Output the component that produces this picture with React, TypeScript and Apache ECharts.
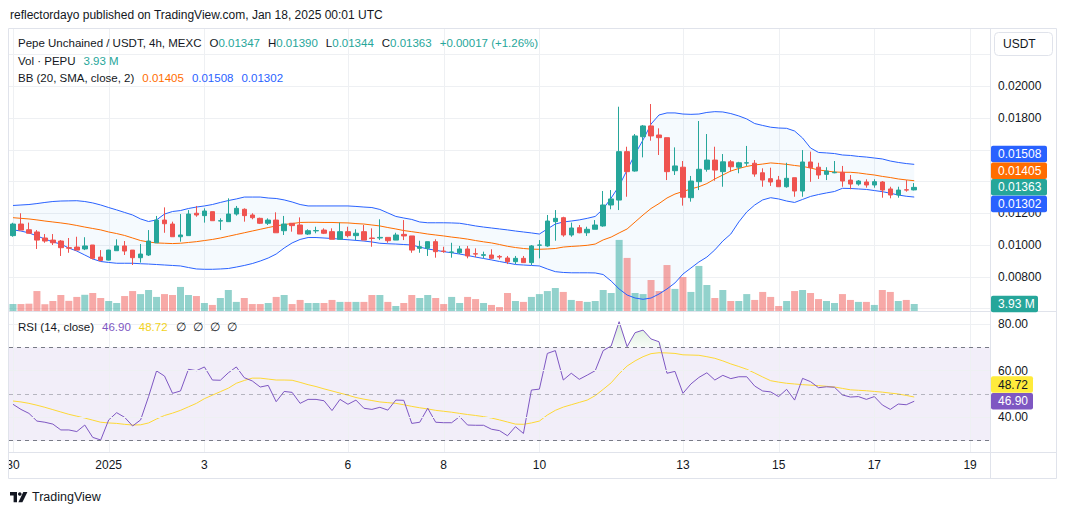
import React, { useEffect, useRef } from "react";
import * as echarts from "echarts";

const FONT = '"Liberation Sans", Arial, Helvetica, sans-serif';
const TEXT = "#131722";
const UP = "#26a69a";
const DOWN = "#ef5350";
const GRID = "#eef0f3";
const BORDER = "#e0e3eb";
const BB_BAND = "#2962ff";
const BB_BASIS = "#ff6d00";
const RSI_COLOR = "#7e57c2";
const RSI_MA_COLOR = "#fdd835";

// 4h bars, the first one opens 2024-12-30 00:00; the axis keeps a few empty slots on the right
const firstBarUtc = Date.UTC(2024, 11, 30, 0, 0);
const barMs = 4 * 3600 * 1000;
const slotCount = 123;

const tickDays = ["2024-12-30", "2025-01-01", "2025-01-03", "2025-01-06", "2025-01-08", "2025-01-10", "2025-01-13", "2025-01-15", "2025-01-17", "2025-01-19"];
const tickTexts = ["30", "2025", "3", "6", "8", "10", "13", "15", "17", "19"];

const opens = [
  0.01059, 0.01132, 0.01096, 0.01082, 0.01044, 0.01031, 0.01025, 0.00983, 0.00987, 0.00975,
  0.01000, 0.00924, 0.00905, 0.00964, 0.00994, 0.00968, 0.00920, 0.00937, 0.01014, 0.01157,
  0.01132, 0.01052, 0.01059, 0.01200, 0.01185, 0.01210, 0.01151, 0.01147, 0.01195, 0.01225,
  0.01189, 0.01168, 0.01137, 0.01157, 0.01090, 0.01137, 0.01126, 0.01069, 0.01089, 0.01094,
  0.01084, 0.01036, 0.01084, 0.01059, 0.01084, 0.01044, 0.01044, 0.01048, 0.01031, 0.01067,
  0.01057, 0.00979, 0.00979, 0.01021, 0.00962, 0.00954, 0.00951, 0.00975, 0.00945, 0.00935,
  0.00937, 0.00928, 0.00918, 0.00895, 0.00916, 0.00889, 0.00999, 0.00994, 0.01147, 0.01172,
  0.01063, 0.01109, 0.01077, 0.01099, 0.01120, 0.01252, 0.01283, 0.01588, 0.01466, 0.01682,
  0.01750, 0.01693, 0.01676, 0.01468, 0.01490, 0.01298, 0.01399, 0.01477, 0.01535, 0.01462,
  0.01524, 0.01490, 0.01516, 0.01515, 0.01455, 0.01418, 0.01409, 0.01367, 0.01424, 0.01340,
  0.01523, 0.01490, 0.01445, 0.01455, 0.01458, 0.01409, 0.01384, 0.01397, 0.01378, 0.01397,
  0.01353, 0.01315, 0.01348, 0.01347,
];
const highs = [
  0.01140, 0.01200, 0.01141, 0.01094, 0.01069, 0.01069, 0.01031, 0.01044, 0.01052, 0.01049,
  0.01000, 0.00968, 0.00970, 0.01036, 0.01025, 0.00968, 0.01006, 0.01094, 0.01183, 0.01237,
  0.01147, 0.01195, 0.01220, 0.01246, 0.01231, 0.01210, 0.01168, 0.01294, 0.01246, 0.01231,
  0.01200, 0.01172, 0.01168, 0.01206, 0.01183, 0.01137, 0.01174, 0.01099, 0.01115, 0.01105,
  0.01105, 0.01141, 0.01115, 0.01099, 0.01126, 0.01105, 0.01162, 0.01048, 0.01077, 0.01157,
  0.01057, 0.01027, 0.01021, 0.01036, 0.00989, 0.01014, 0.00994, 0.00994, 0.00979, 0.00958,
  0.00973, 0.00937, 0.00931, 0.00931, 0.00931, 0.01000, 0.01031, 0.01189, 0.01220, 0.01178,
  0.01141, 0.01126, 0.01115, 0.01157, 0.01340, 0.01346, 0.01871, 0.01619, 0.01699, 0.01756,
  0.01888, 0.01735, 0.01676, 0.01615, 0.01529, 0.01435, 0.01781, 0.01699, 0.01619, 0.01573,
  0.01535, 0.01524, 0.01624, 0.01535, 0.01483, 0.01487, 0.01435, 0.01518, 0.01424, 0.01598,
  0.01588, 0.01518, 0.01490, 0.01529, 0.01498, 0.01441, 0.01409, 0.01414, 0.01414, 0.01403,
  0.01367, 0.01367, 0.01409, 0.01390,
];
const lows = [
  0.01052, 0.01094, 0.01074, 0.00975, 0.01014, 0.01000, 0.00931, 0.00951, 0.00968, 0.00968,
  0.00910, 0.00897, 0.00903, 0.00964, 0.00937, 0.00874, 0.00889, 0.00931, 0.01014, 0.01077,
  0.01052, 0.01021, 0.01059, 0.01178, 0.01141, 0.01153, 0.01094, 0.01147, 0.01185, 0.01147,
  0.01162, 0.01132, 0.01126, 0.01077, 0.01063, 0.01084, 0.01069, 0.01063, 0.01074, 0.01069,
  0.01036, 0.01036, 0.01048, 0.01031, 0.01031, 0.00989, 0.01031, 0.01014, 0.01031, 0.01031,
  0.00951, 0.00951, 0.00931, 0.00920, 0.00951, 0.00920, 0.00943, 0.00916, 0.00923, 0.00916,
  0.00910, 0.00910, 0.00880, 0.00880, 0.00889, 0.00874, 0.00916, 0.00989, 0.01027, 0.01052,
  0.01052, 0.01074, 0.01057, 0.01099, 0.01115, 0.01225, 0.01220, 0.01304, 0.01462, 0.01552,
  0.01657, 0.01567, 0.01409, 0.01441, 0.01248, 0.01273, 0.01346, 0.01462, 0.01405, 0.01367,
  0.01462, 0.01452, 0.01498, 0.01430, 0.01367, 0.01372, 0.01367, 0.01361, 0.01304, 0.01304,
  0.01398, 0.01416, 0.01409, 0.01452, 0.01367, 0.01351, 0.01374, 0.01361, 0.01361, 0.01298,
  0.01294, 0.01298, 0.01336, 0.01344,
];
const closes = [
  0.01132, 0.01094, 0.01074, 0.01031, 0.01025, 0.01014, 0.00983, 0.00980, 0.00968, 0.00994,
  0.00916, 0.00903, 0.00968, 0.00994, 0.00962, 0.00920, 0.00943, 0.01025, 0.01157, 0.01134,
  0.01052, 0.01063, 0.01195, 0.01189, 0.01214, 0.01153, 0.01153, 0.01195, 0.01231, 0.01185,
  0.01172, 0.01137, 0.01157, 0.01077, 0.01132, 0.01122, 0.01069, 0.01090, 0.01091, 0.01074,
  0.01036, 0.01084, 0.01059, 0.01074, 0.01031, 0.01041, 0.01048, 0.01027, 0.01063, 0.01057,
  0.00968, 0.00989, 0.01021, 0.00958, 0.00959, 0.00956, 0.00975, 0.00931, 0.00943, 0.00939,
  0.00916, 0.00924, 0.00895, 0.00916, 0.00889, 0.00994, 0.01000, 0.01151, 0.01168, 0.01063,
  0.01107, 0.01077, 0.01099, 0.01126, 0.01252, 0.01290, 0.01588, 0.01462, 0.01687, 0.01750,
  0.01687, 0.01676, 0.01462, 0.01498, 0.01301, 0.01403, 0.01477, 0.01535, 0.01472, 0.01524,
  0.01493, 0.01518, 0.01518, 0.01447, 0.01409, 0.01397, 0.01367, 0.01420, 0.01340, 0.01523,
  0.01487, 0.01441, 0.01466, 0.01458, 0.01403, 0.01384, 0.01403, 0.01378, 0.01399, 0.01346,
  0.01315, 0.01346, 0.01346, 0.01363,
];
// volume in millions of PEPU
const volumesM = [
  4.0, 3.9, 4.1, 11.2, 3.8, 5.6, 9.0, 5.7, 7.9, 9.1,
  10.1, 7.3, 5.6, 4.5, 8.4, 11.2, 9.5, 11.8, 7.9, 9.5,
  9.0, 13.5, 9.0, 8.4, 4.5, 3.4, 7.3, 11.8, 5.1, 7.3,
  3.9, 3.9, 4.5, 7.9, 9.0, 3.9, 6.2, 4.5, 4.5, 4.5,
  6.2, 5.1, 5.1, 5.1, 5.1, 9.0, 9.0, 5.1, 2.8, 4.5,
  9.0, 7.3, 9.0, 7.3, 3.9, 7.9, 4.5, 7.9, 6.7, 4.5,
  3.4, 2.2, 10.1, 5.6, 5.1, 7.9, 9.5, 11.2, 12.9, 10.7,
  6.2, 5.6, 5.1, 5.6, 11.8, 10.1, 39.9, 29.8, 10.1, 9.5,
  17.4, 11.2, 25.8, 12.4, 19.1, 10.7, 25.3, 14.6, 7.3, 11.8,
  5.6, 5.6, 9.5, 6.2, 10.7, 7.9, 2.8, 5.6, 11.2, 11.8,
  10.1, 6.7, 5.6, 4.5, 9.5, 6.2, 5.1, 5.1, 3.4, 11.8,
  10.7, 5.6, 6.2, 3.93,
];
// Bollinger Bands (20, SMA, close, 2)
const bbUpper = [
  0.01249, 0.01252, 0.01255, 0.01261, 0.01268, 0.01274, 0.01277, 0.01278, 0.01279, 0.01274,
  0.01265, 0.01252, 0.01236, 0.01221, 0.01205, 0.01189, 0.01164, 0.01148, 0.01158, 0.01195,
  0.01211, 0.01217, 0.01230, 0.01239, 0.01246, 0.01255, 0.01268, 0.01280, 0.01290, 0.01302,
  0.01302, 0.01302, 0.01296, 0.01293, 0.01284, 0.01271, 0.01255, 0.01246, 0.01246, 0.01246,
  0.01246, 0.01246, 0.01246, 0.01243, 0.01239, 0.01236, 0.01224, 0.01202, 0.01180, 0.01170,
  0.01161, 0.01145, 0.01140, 0.01140, 0.01140, 0.01139, 0.01137, 0.01129, 0.01120, 0.01113,
  0.01107, 0.01101, 0.01095, 0.01088, 0.01082, 0.01076, 0.01069, 0.01101, 0.01132, 0.01145,
  0.01151, 0.01158, 0.01168, 0.01180, 0.01227, 0.01296, 0.01372, 0.01473, 0.01573, 0.01662,
  0.01762, 0.01819, 0.01832, 0.01832, 0.01825, 0.01823, 0.01825, 0.01835, 0.01840, 0.01838,
  0.01828, 0.01813, 0.01794, 0.01765, 0.01753, 0.01742, 0.01737, 0.01735, 0.01718, 0.01674,
  0.01611, 0.01583, 0.01580, 0.01576, 0.01567, 0.01564, 0.01558, 0.01554, 0.01548, 0.01542,
  0.01529, 0.01520, 0.01513, 0.01508,
];
const bbBasis = [
  0.01172, 0.01168, 0.01164, 0.01158, 0.01151, 0.01145, 0.01139, 0.01132, 0.01123, 0.01113,
  0.01104, 0.01095, 0.01082, 0.01072, 0.01060, 0.01044, 0.01028, 0.01019, 0.01013, 0.01011,
  0.01009, 0.01011, 0.01016, 0.01021, 0.01028, 0.01035, 0.01044, 0.01055, 0.01066, 0.01077,
  0.01088, 0.01099, 0.01110, 0.01120, 0.01129, 0.01135, 0.01142, 0.01143, 0.01143, 0.01142,
  0.01142, 0.01140, 0.01139, 0.01135, 0.01132, 0.01126, 0.01120, 0.01110, 0.01101, 0.01091,
  0.01084, 0.01077, 0.01069, 0.01063, 0.01057, 0.01050, 0.01044, 0.01037, 0.01028, 0.01020,
  0.01013, 0.01003, 0.00992, 0.00984, 0.00978, 0.00974, 0.00973, 0.00975, 0.00978, 0.00987,
  0.00991, 0.00994, 0.00998, 0.01006, 0.01032, 0.01050, 0.01076, 0.01101, 0.01145, 0.01189,
  0.01230, 0.01261, 0.01296, 0.01321, 0.01337, 0.01353, 0.01367, 0.01387, 0.01416, 0.01441,
  0.01466, 0.01482, 0.01495, 0.01504, 0.01510, 0.01517, 0.01513, 0.01508, 0.01501, 0.01495,
  0.01485, 0.01473, 0.01466, 0.01460, 0.01458, 0.01458, 0.01454, 0.01447, 0.01441, 0.01432,
  0.01425, 0.01416, 0.01410, 0.01405,
];
const bbLower = [
  0.01095, 0.01088, 0.01076, 0.01057, 0.01038, 0.01019, 0.01006, 0.00981, 0.00962, 0.00937,
  0.00912, 0.00896, 0.00890, 0.00885, 0.00885, 0.00885, 0.00882, 0.00880, 0.00877, 0.00874,
  0.00871, 0.00868, 0.00858, 0.00849, 0.00847, 0.00847, 0.00849, 0.00852, 0.00861, 0.00871,
  0.00883, 0.00899, 0.00918, 0.00943, 0.00981, 0.01013, 0.01035, 0.01047, 0.01047, 0.01044,
  0.01041, 0.01037, 0.01033, 0.01029, 0.01025, 0.01019, 0.01011, 0.01008, 0.01006, 0.01003,
  0.01000, 0.00987, 0.00975, 0.00967, 0.00958, 0.00951, 0.00943, 0.00934, 0.00924, 0.00915,
  0.00906, 0.00896, 0.00887, 0.00877, 0.00874, 0.00871, 0.00868, 0.00849, 0.00832, 0.00827,
  0.00825, 0.00825, 0.00825, 0.00824, 0.00814, 0.00773, 0.00723, 0.00685, 0.00666, 0.00658,
  0.00666, 0.00691, 0.00723, 0.00761, 0.00817, 0.00855, 0.00893, 0.00924, 0.00969, 0.01025,
  0.01069, 0.01145, 0.01208, 0.01252, 0.01284, 0.01298, 0.01290, 0.01277, 0.01268, 0.01287,
  0.01306, 0.01318, 0.01328, 0.01337, 0.01357, 0.01356, 0.01353, 0.01350, 0.01343, 0.01336,
  0.01326, 0.01315, 0.01307, 0.01302,
];
// RSI (14, close) and its moving average
const rsi = [
  45.6, 43.4, 41.7, 38.4, 37.9, 37.1, 34.6, 34.6, 33.9, 36.7,
  31.4, 30.3, 38.9, 42.0, 40.0, 36.3, 38.9, 48.9, 59.9, 57.7,
  50.3, 51.3, 60.6, 60.0, 61.6, 56.0, 55.9, 59.1, 61.6, 57.0,
  55.6, 53.0, 53.7, 46.7, 51.1, 50.7, 46.0, 47.7, 47.7, 47.1,
  42.9, 47.7, 45.6, 47.4, 43.9, 43.4, 44.3, 43.1, 47.4, 47.3,
  37.4, 37.9, 43.9, 37.9, 37.7, 37.7, 40.3, 36.7, 36.6, 36.6,
  34.9, 34.3, 32.1, 36.0, 33.1, 51.7, 52.1, 67.4, 68.6, 56.0,
  58.9, 56.3, 58.1, 60.0, 68.6, 70.6, 81.0, 70.3, 76.3, 77.4,
  73.6, 72.4, 58.9, 59.7, 50.3, 54.3, 57.1, 59.1, 56.0, 58.0,
  56.6, 57.4, 57.4, 53.4, 51.3, 50.9, 48.9, 52.0, 47.4, 56.7,
  55.3, 52.7, 53.1, 52.9, 49.6, 48.7, 48.9, 47.7, 48.9, 45.3,
  43.4, 45.7, 45.4, 46.9,
];
const rsiMa = [
  47.0, 46.6, 46.0, 45.2, 44.3, 43.3, 42.3, 41.3, 40.5, 39.7,
  38.8, 37.9, 37.6, 37.4, 37.0, 36.7, 36.8, 37.6, 39.3, 40.8,
  41.8, 43.0, 44.5, 46.0, 48.0, 49.5, 51.0, 52.5, 54.6, 55.8,
  56.8, 56.8, 56.4, 56.0, 56.0, 55.9, 55.0, 54.0, 53.2, 52.2,
  51.3, 50.4, 49.5, 48.5, 47.8, 47.2, 46.6, 46.3, 46.0, 45.4,
  44.7, 44.1, 43.6, 43.0, 42.6, 42.2, 41.7, 41.2, 40.8, 40.3,
  39.7, 38.9, 38.0, 37.1, 37.0, 37.6, 38.4, 41.0, 43.0, 44.4,
  45.4, 46.4, 47.4, 49.3, 52.0, 54.8, 58.7, 62.0, 64.2, 66.0,
  67.3, 67.7, 67.6, 67.4, 66.8, 66.7, 66.6, 66.0, 65.3, 64.2,
  62.9, 61.8, 60.6, 59.0, 57.3, 55.7, 55.1, 54.6, 54.3, 54.0,
  53.8, 53.6, 53.3, 53.0, 52.4, 51.8, 51.6, 51.4, 51.1, 50.8,
  50.4, 50.0, 49.4, 48.72,
];
const rsiUpperLevel = 70;
const rsiMidLevel = 50;
const rsiLowerLevel = 30;
const rsiGridLevels = [80, 60, 40];

const pad2 = (n: number) => String(n).padStart(2, "0");
const categories: string[] = Array.from({ length: slotCount }, (_, i) => {
  const d = new Date(firstBarUtc + i * barMs);
  return `${d.getUTCFullYear()}-${pad2(d.getUTCMonth() + 1)}-${pad2(d.getUTCDate())} ${pad2(d.getUTCHours())}:00`;
});
const tickIndex = tickDays.map((d) => categories.indexOf(`${d} 00:00`));
const tickLabelByIndex = new Map<number, string>(tickIndex.map((idx, k) => [idx, tickTexts[k]]));

// layout
const PLOT_LEFT = 9;
const PLOT_RIGHT_GAP = 78;
const AXIS_X = 991;
const FRAME = { left: 8.5, top: 28.5, right: 1056.5, bottom: 478.5 };
const PANE_SPLIT_Y = 311.5;
const TIME_AXIS_Y = 452.5;
const BOX_H = 16.5;

const priceMin = 0.006;
const priceMax = 0.022;
const priceStep = 0.002;
const volumeMax = 78.6;

function spreadLabels(ys: number[], anchor: number, gap: number): number[] {
  const order = ys.map((_, i) => i).sort((a, b) => ys[a] - ys[b]);
  const pos = order.indexOf(anchor);
  const out = ys.slice();
  for (let k = pos - 1; k >= 0; k--) out[order[k]] = Math.min(ys[order[k]], out[order[k + 1]] - gap);
  for (let k = pos + 1; k < order.length; k++) out[order[k]] = Math.max(ys[order[k]], out[order[k - 1]] + gap);
  return out;
}

const priceLabel = (hidden: number[]) => (v: number) =>
  Math.abs(v - priceMax) < 1e-9 || hidden.some((h) => Math.abs(h - v) < 1e-9) ? "" : v.toFixed(5);

function buildOption() {
  const hiddenX = (gridIndex: number) => ({
    type: "category",
    gridIndex,
    data: categories,
    boundaryGap: true,
    axisLine: { show: false },
    axisTick: { show: false },
    axisLabel: { show: false },
    splitLine: { show: false },
  });
  const line = (data: number[], color: string, xi: number, yi: number, z = 3) => ({
    type: "line",
    xAxisIndex: xi,
    yAxisIndex: yi,
    data,
    symbol: "none",
    showSymbol: false,
    silent: true,
    lineStyle: { color, width: 1 },
    z,
  });
  const dashed = [4, 4];
  return {
    animation: false,
    backgroundColor: "#ffffff",
    textStyle: { fontFamily: FONT },
    grid: [
      { left: PLOT_LEFT, right: PLOT_RIGHT_GAP, top: 54.5, height: 254 },
      { left: PLOT_LEFT, right: PLOT_RIGHT_GAP, top: 171, height: 140 },
      { left: PLOT_LEFT, right: PLOT_RIGHT_GAP, top: 300.7, height: 163.3 },
      { left: PLOT_LEFT, right: PLOT_RIGHT_GAP, top: 452, height: 1 },
    ],
    xAxis: [
      hiddenX(0),
      hiddenX(1),
      hiddenX(2),
      {
        ...hiddenX(3),
        axisLabel: {
          show: true,
          interval: (index: number) => tickLabelByIndex.has(index),
          formatter: (_v: string, index: number) => tickLabelByIndex.get(index) ?? "",
          color: TEXT,
          fontSize: 12,
          fontFamily: FONT,
          margin: 6,
        },
      },
    ],
    yAxis: [
      {
        type: "value",
        gridIndex: 0,
        position: "right",
        min: priceMin,
        max: priceMax,
        interval: priceStep,
        axisLine: { show: false },
        axisTick: { show: false },
        splitLine: { show: true, lineStyle: { color: GRID, width: 1 } },
        axisLabel: { color: TEXT, fontSize: 12, fontFamily: FONT, margin: 8, formatter: priceLabel([]) },
      },
      { type: "value", gridIndex: 1, min: 0, max: volumeMax, show: false },
      {
        type: "value",
        gridIndex: 2,
        position: "right",
        min: 20,
        max: 90,
        interval: 20,
        axisLine: { show: false },
        axisTick: { show: false },
        splitLine: { show: false },
        axisLabel: {
          color: TEXT,
          fontSize: 12,
          fontFamily: FONT,
          margin: 8,
          formatter: (v: number) => (rsiGridLevels.some((g) => Math.abs(g - v) < 1e-6) ? v.toFixed(2) : ""),
        },
      },
      { type: "value", gridIndex: 3, show: false },
    ],
    series: [
      {
        type: "bar",
        name: "Volume",
        xAxisIndex: 1,
        yAxisIndex: 1,
        barWidth: 7,
        silent: true,
        z: 1,
        data: volumesM.map((v, i) => ({
          value: v,
          itemStyle: { color: closes[i] >= opens[i] ? "rgba(38,166,154,0.5)" : "rgba(239,83,80,0.5)" },
        })),
      },
      {
        ...line(bbLower, "transparent", 0, 0, 1),
        stack: "bb",
        lineStyle: { opacity: 0, width: 0 },
      },
      {
        ...line(bbUpper.map((u, i) => u - bbLower[i]), "transparent", 0, 0, 1),
        stack: "bb",
        lineStyle: { opacity: 0, width: 0 },
        areaStyle: { color: "rgba(33,150,243,0.07)" },
      },
      line(bbUpper, BB_BAND, 0, 0),
      line(bbBasis, BB_BASIS, 0, 0),
      line(bbLower, BB_BAND, 0, 0),
      {
        type: "candlestick",
        name: "PEPU/USDT",
        xAxisIndex: 0,
        yAxisIndex: 0,
        barWidth: 5,
        silent: true,
        z: 4,
        data: opens.map((o, i) => [o, closes[i], lows[i], highs[i]]),
        itemStyle: { color: UP, color0: DOWN, borderColor: UP, borderColor0: DOWN, borderWidth: 1 },
      },
      {
        ...line(rsi.map(() => rsiUpperLevel), "transparent", 2, 2, 1),
        stack: "ob",
        lineStyle: { opacity: 0, width: 0 },
      },
      {
        ...line(rsi.map((v) => Math.max(0, v - rsiUpperLevel)), "transparent", 2, 2, 1),
        stack: "ob",
        lineStyle: { opacity: 0, width: 0 },
        areaStyle: {
          color: new echarts.graphic.LinearGradient(0, 0, 0, 1, [
            { offset: 0, color: "rgba(76,175,80,0.32)" },
            { offset: 1, color: "rgba(76,175,80,0.06)" },
          ]),
        },
      },
      line(rsiMa, RSI_MA_COLOR, 2, 2),
      {
        ...line(rsi, RSI_COLOR, 2, 2, 4),
        markLine: {
          silent: true,
          symbol: ["none", "none"],
          label: { show: false },
          data: [
            ...rsiGridLevels.map((lv) => ({ yAxis: lv, lineStyle: { color: GRID, type: "solid", width: 1 } })),
            { yAxis: rsiUpperLevel, lineStyle: { color: "#787b86", type: dashed, width: 1 } },
            { yAxis: rsiMidLevel, lineStyle: { color: "rgba(120,123,134,0.5)", type: dashed, width: 1 } },
            { yAxis: rsiLowerLevel, lineStyle: { color: "#787b86", type: dashed, width: 1 } },
          ],
        },
      },
    ],
  };
}

function buildGraphics(chart: echarts.ECharts) {
  const px = (i: number) => chart.convertToPixel({ xAxisIndex: 0 }, i) as number;
  const py = (v: number) => chart.convertToPixel({ yAxisIndex: 0 }, v) as number;
  const pvol = (v: number) => chart.convertToPixel({ yAxisIndex: 1 }, v) as number;
  const prsi = (v: number) => chart.convertToPixel({ yAxisIndex: 2 }, v) as number;
  const last = closes.length - 1;
  const els: any[] = [];
  const boxCenters: number[] = [];

  const hline = (y: number, x1: number, x2: number, stroke: string, z: number) =>
    els.push({ type: "line", silent: true, z, shape: { x1, y1: y, x2, y2: y }, style: { stroke, lineWidth: 1 } });
  const vline = (x: number, y1: number, y2: number, stroke: string, z: number) =>
    els.push({ type: "line", silent: true, z, shape: { x1: x, y1, x2: x, y2 }, style: { stroke, lineWidth: 1 } });
  const text = (x: number, y: number, t: string, size: number, fill: string, z = 20, align = "left") =>
    els.push({
      type: "text",
      silent: true,
      z,
      x,
      y,
      style: { text: t, fill, fontSize: size, fontFamily: FONT, align, verticalAlign: "middle" },
    });
  const box = (yc: number, w: number, fill: string, label: string, fg: string) => {
    boxCenters.push(yc);
    els.push({ type: "rect", silent: true, z: 30, shape: { x: AXIS_X, y: yc - BOX_H / 2, width: w, height: BOX_H, r: 2 }, style: { fill } });
    text(AXIS_X + 7, yc, label, 12, fg, 31);
  };

  // RSI reference band
  const bandTop = prsi(rsiUpperLevel);
  const bandBottom = prsi(rsiLowerLevel);
  els.push({
    type: "rect",
    silent: true,
    z: 0,
    shape: { x: PLOT_LEFT, y: bandTop, width: AXIS_X - 1 - PLOT_LEFT, height: bandBottom - bandTop },
    style: { fill: "rgba(126,87,194,0.1)" },
  });

  // vertical time grid through both panes
  tickIndex.forEach((idx) => vline(Math.round(px(idx)) + 0.5, FRAME.top, TIME_AXIS_Y, GRID, 0.5));

  // clip the time labels at the left frame edge
  els.push({ type: "rect", silent: true, z: 9, shape: { x: 0, y: TIME_AXIS_Y + 1, width: FRAME.left, height: 26 }, style: { fill: "#ffffff" } });

  // frame and separators
  els.push({
    type: "rect",
    silent: true,
    z: 10,
    shape: { x: FRAME.left, y: FRAME.top, width: FRAME.right - FRAME.left, height: FRAME.bottom - FRAME.top },
    style: { fill: "none", stroke: BORDER, lineWidth: 1 },
  });
  vline(990.5, FRAME.top, FRAME.bottom, BORDER, 10);
  hline(PANE_SPLIT_Y, FRAME.left, FRAME.right, BORDER, 10);
  hline(TIME_AXIS_Y, FRAME.left, FRAME.right, BORDER, 10);

  // header
  text(10, 15, "reflectordayo published on TradingView.com, Jan 18, 2025 00:01 UTC", 12, TEXT);

  // legends
  const tok = (size: number, fill: string) => ({ fill, fontSize: size, fontFamily: FONT });
  const rich = {
    t: tok(11.5, TEXT),
    up: tok(11.5, UP),
    dn: tok(11.5, DOWN),
    or: tok(11.5, BB_BASIS),
    bl: tok(11.5, BB_BAND),
    rs: tok(11.5, RSI_COLOR),
    ma: tok(11.5, "#f2d21b"),
    sp: { width: 8, fontSize: 11.5 },
    sp2: { width: 7, fontSize: 11.5 },
  };
  const legend = (y: number, t: string) =>
    els.push({ type: "text", silent: true, z: 20, x: 18, y, style: { text: t, rich, verticalAlign: "middle" } });

  const c = closes[last] >= opens[last] ? "up" : "dn";
  const chg = closes[last] - closes[last - 1];
  const pct = (chg / closes[last - 1]) * 100;
  const sign = chg >= 0 ? "+" : "-";
  legend(
    42.5,
    `{t|Pepe Unchained / USDT, 4h, MEXC}{sp| }{t|O}{${c}|${opens[last].toFixed(5)}}{sp| }{t|H}{${c}|${highs[last].toFixed(5)}}{sp| }{t|L}{${c}|${lows[last].toFixed(5)}}{sp| }{t|C}{${c}|${closes[last].toFixed(5)}}{sp| }{${c}|${sign}${Math.abs(chg).toFixed(5)} (${sign}${Math.abs(pct).toFixed(2)}%)}`
  );
  legend(60.5, `{t|Vol · PEPU}{sp| }{${c}|${volumesM[last].toFixed(2)} M}`);
  legend(
    77.5,
    `{t|BB (20, SMA, close, 2)}{sp| }{or|${bbBasis[last].toFixed(5)}}{sp| }{bl|${bbUpper[last].toFixed(5)}}{sp| }{bl|${bbLower[last].toFixed(5)}}`
  );
  legend(
    326.5,
    `{t|RSI (14, close)}{sp| }{rs|${rsi[last].toFixed(2)}}{sp| }{ma|${rsiMa[last].toFixed(2)}}{sp| }{t|∅}{sp2| }{t|∅}{sp2| }{t|∅}{sp2| }{t|∅}`
  );

  // currency button
  els.push({ type: "rect", silent: true, z: 20, shape: { x: 994.5, y: 32.5, width: 58, height: 23, r: 4 }, style: { fill: "#ffffff", stroke: BORDER, lineWidth: 1 } });
  text(1003, 44, "USDT", 12, TEXT, 21);

  // last-value labels on the price scale
  const priceVals = [bbUpper[last], bbBasis[last], closes[last], bbLower[last]];
  const priceFills = [BB_BAND, BB_BASIS, closes[last] >= opens[last] ? UP : DOWN, BB_BAND];
  const priceYs = spreadLabels(priceVals.map(py), 2, 16.7);
  priceVals.forEach((v, i) => box(priceYs[i], 56, priceFills[i], v.toFixed(5), "#ffffff"));
  box(pvol(volumesM[last]), 47, closes[last] >= opens[last] ? UP : DOWN, `${volumesM[last].toFixed(2)} M`, "#ffffff");

  // price-scale ticks that sit almost entirely under a value label are left out
  const hiddenTicks: number[] = [];
  for (let k = Math.round(priceMin / priceStep); k <= Math.round(priceMax / priceStep); k++) {
    const v = k * priceStep;
    if (boxCenters.some((yc) => Math.abs(py(v) - yc) < 6.5)) hiddenTicks.push(v);
  }

  const rsiYs = spreadLabels([prsi(rsiMa[last]), prsi(rsi[last])], 1, 16.7);
  box(rsiYs[0], 42, "#ffeb3b", rsiMa[last].toFixed(2), TEXT);
  box(rsiYs[1], 42, RSI_COLOR, rsi[last].toFixed(2), "#ffffff");

  // TradingView mark
  els.push({ type: "polygon", silent: true, z: 20, shape: { points: [[10, 492], [17, 492], [17, 502.3], [13.6, 502.3], [13.6, 495.4], [10, 495.4]] }, style: { fill: TEXT } });
  els.push({ type: "circle", silent: true, z: 20, shape: { cx: 19.8, cy: 494, r: 1.8 }, style: { fill: TEXT } });
  els.push({ type: "polygon", silent: true, z: 20, shape: { points: [[23.3, 492], [27.4, 492], [22.4, 502.3], [18.4, 502.3]] }, style: { fill: TEXT } });
  text(32, 497, "TradingView", 12.5, TEXT);

  return { els, hiddenTicks };
}

export default function App() {
  const ref = useRef<HTMLDivElement>(null);
  useEffect(() => {
    const prevMargin = document.body.style.margin;
    document.body.style.margin = "0";
    const chart = echarts.init(ref.current as HTMLDivElement, undefined, { renderer: "svg" });
    chart.setOption(buildOption() as any);
    const { els, hiddenTicks } = buildGraphics(chart);
    chart.setOption({
      yAxis: [{ axisLabel: { formatter: priceLabel(hiddenTicks) } }],
      graphic: { elements: els },
    } as any);
    return () => {
      chart.dispose();
      document.body.style.margin = prevMargin;
    };
  }, []);
  return <div ref={ref} style={{ width: 1068, height: 515, background: "#ffffff" }} />;
}
